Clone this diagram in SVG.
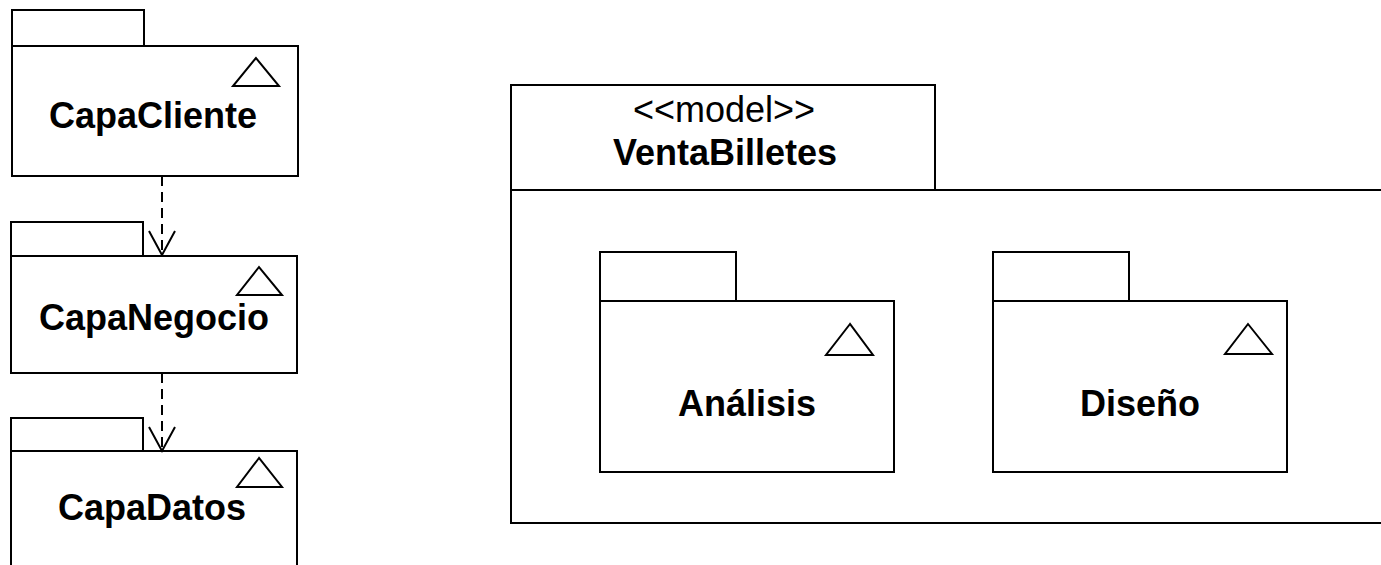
<svg xmlns="http://www.w3.org/2000/svg" width="1381" height="565" viewBox="0 0 1381 565">
<style>
.box{fill:#fff;stroke:#000;stroke-width:2}
.tri{fill:none;stroke:#000;stroke-width:2}
.name{font-family:"Liberation Sans",Arial,Helvetica,sans-serif;font-weight:bold;font-size:36px;text-anchor:middle;fill:#000}
.stereo{font-family:"Liberation Sans",Arial,Helvetica,sans-serif;font-size:36px;text-anchor:middle;fill:#000}
.dep{fill:none;stroke:#000;stroke-width:2;stroke-dasharray:10 6}
</style>
<defs>
<marker id="open" markerUnits="userSpaceOnUse" markerWidth="30" markerHeight="30" viewBox="-2 -2 30 30" refX="24" refY="13" orient="auto">
<path d="M0,0 L24,13 L0,26" fill="none" stroke="#000" stroke-width="2"/>
</marker>
</defs>
<rect width="1381" height="565" fill="#fff"/>
<g id="CapaCliente">
<rect class="box" x="12" y="10" width="132" height="36"/>
<rect class="box" x="12" y="46" width="286" height="130"/>
<polygon class="tri" points="256,58 233,86 279,86"/>
<text class="name" x="153" y="128">CapaCliente</text>
</g>
<g id="CapaNegocio">
<rect class="box" x="11" y="222" width="132" height="34"/>
<rect class="box" x="11" y="256" width="286" height="117"/>
<polygon class="tri" points="259,267 237,295 282,295"/>
<text class="name" x="154" y="330">CapaNegocio</text>
</g>
<g id="CapaDatos">
<rect class="box" x="11" y="418" width="132" height="33"/>
<rect class="box" x="11" y="451" width="286" height="130"/>
<polygon class="tri" points="259,458 237,487 282,487"/>
<text class="name" x="152" y="520">CapaDatos</text>
</g>
<g id="VentaBilletes">
<rect class="box" x="511" y="85" width="424" height="105"/>
<rect class="box" x="511" y="190" width="900" height="333"/>
<text class="stereo" x="724" y="122">&lt;&lt;model&gt;&gt;</text>
<text class="name" x="725" y="165">VentaBilletes</text>
</g>
<g id="Analisis">
<rect class="box" x="600" y="252" width="136" height="49"/>
<rect class="box" x="600" y="301" width="294" height="171"/>
<polygon class="tri" points="850,324 826,355 873,355"/>
<text class="name" x="747" y="416">Análisis</text>
</g>
<g id="Diseno">
<rect class="box" x="993" y="252" width="136" height="49"/>
<rect class="box" x="993" y="301" width="294" height="171"/>
<polygon class="tri" points="1248,324 1225,354 1272,354"/>
<text class="name" x="1140" y="416">Diseño</text>
</g>
<g id="connectors">
<path class="dep" d="M162,176 L162,255" marker-end="url(#open)"/>
<path class="dep" d="M162,373 L162,451" marker-end="url(#open)"/>
</g>
</svg>
